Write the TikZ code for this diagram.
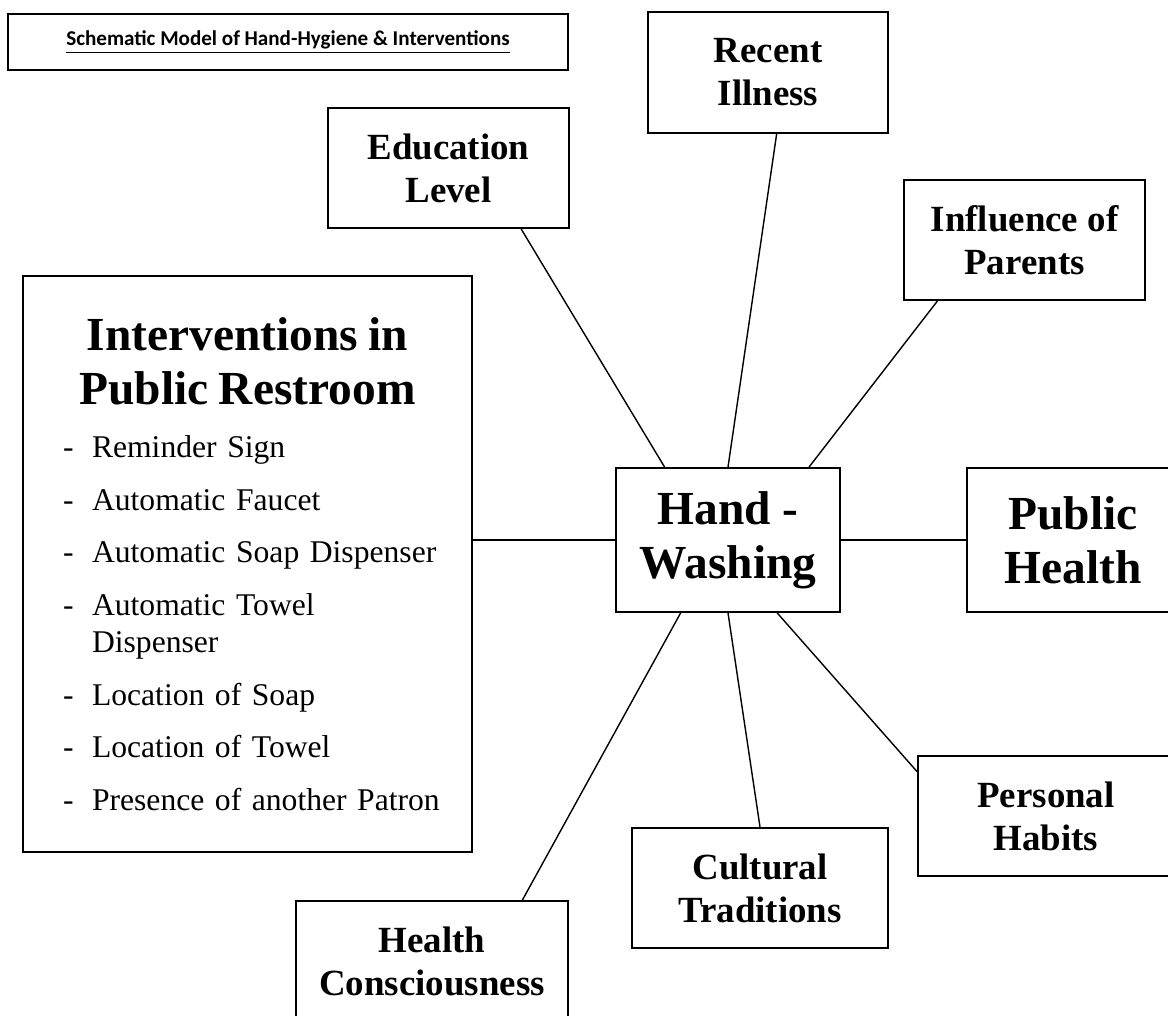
\documentclass[tikz,border=0pt]{standalone}
\usepackage{fontspec}
\setmainfont{Liberation Serif}
\newfontfamily\calfont{Carlito}
\newcommand{\ivitem}[1]{\par\hangindent=1.24cm\hangafter=1\noindent\hspace*{0.66cm}\makebox[0.58cm][l]{-}#1}

\begin{document}
\begin{tikzpicture}[
    x=0.02cm, y=-0.02cm,
    box/.style={
        draw,
        line width=1.1pt,
        align=center,
        inner sep=0pt,
        font=\fontsize{21}{24.4}\selectfont\bfseries
    },
    factor/.style={box, minimum width=4.82cm, minimum height=2.4cm},
    widefactor/.style={factor, minimum width=5.12cm},
    bigbox/.style={box, minimum width=4.48cm, minimum height=2.88cm,
        font=\fontsize{27}{31}\selectfont\bfseries},
    link/.style={line width=0.8pt}
]
\useasboundingbox (0,0) rectangle (1168,1015);

\node[box, minimum width=11.2cm, minimum height=1.12cm,
    font=\calfont\fontsize{12}{14}\selectfont\bfseries] (title) at (288,42)
    {\underline{Schematic Model of Hand-Hygiene \& Interventions}};

\node[factor, minimum width=4.8cm, minimum height=2.42cm] (recent) at (768,72.5) {Recent\\Illness};
\node[factor] (edu) at (448.5,168) {Education\\Level};
\node[factor] (infl) at (1024.5,240) {Influence of\\Parents};

\node[bigbox] (hand) at (728,540) {Hand -\\Washing};
\node[bigbox, minimum width=4.24cm] (public) at (1073,540) {Public\\Health};

\node[widefactor] (cult) at (760,888) {Cultural\\Traditions};
\node[widefactor] (pers) at (1046,816) {Personal\\Habits};
\node[factor, minimum width=5.44cm] (health) at (432,961) {Health\\Consciousness};

\node[box, minimum width=8.98cm, minimum height=11.52cm, text width=8.7cm,
    align=left, font=\fontsize{18}{21}\selectfont] (interv) at (247.5,564) {%
    {\centering\fontsize{27}{31}\selectfont\bfseries Interventions in\\Public Restroom\par}%
    \setlength{\parskip}{9pt}%
    \ivitem{Reminder Sign}
    \ivitem{Automatic Faucet}
    \ivitem{Automatic Soap Dispenser}
    \ivitem{Automatic Towel\newline Dispenser}
    \ivitem{Location of Soap}
    \ivitem{Location of Towel}
    \ivitem{Presence of another Patron}
    \par\vspace*{0.48cm}};

% links to the hand-washing box
\draw[link] (edu.-40) -- (hand.131.6);
\draw[link] (recent.-82.5) -- (hand.north);
\draw[link] (infl.-145.9) -- (hand.42);
\draw[link] (interv.east |- hand.west) -- (hand.west);
\draw[link] (hand.east) -- (hand.east -| public.west);
\draw[link] (hand.-123.7) -- (health.34.3);
\draw[link] (hand.south) -- (cult.north);
\draw[link] (hand.-56.3) -- (pers.161);

\end{tikzpicture}
\end{document}
